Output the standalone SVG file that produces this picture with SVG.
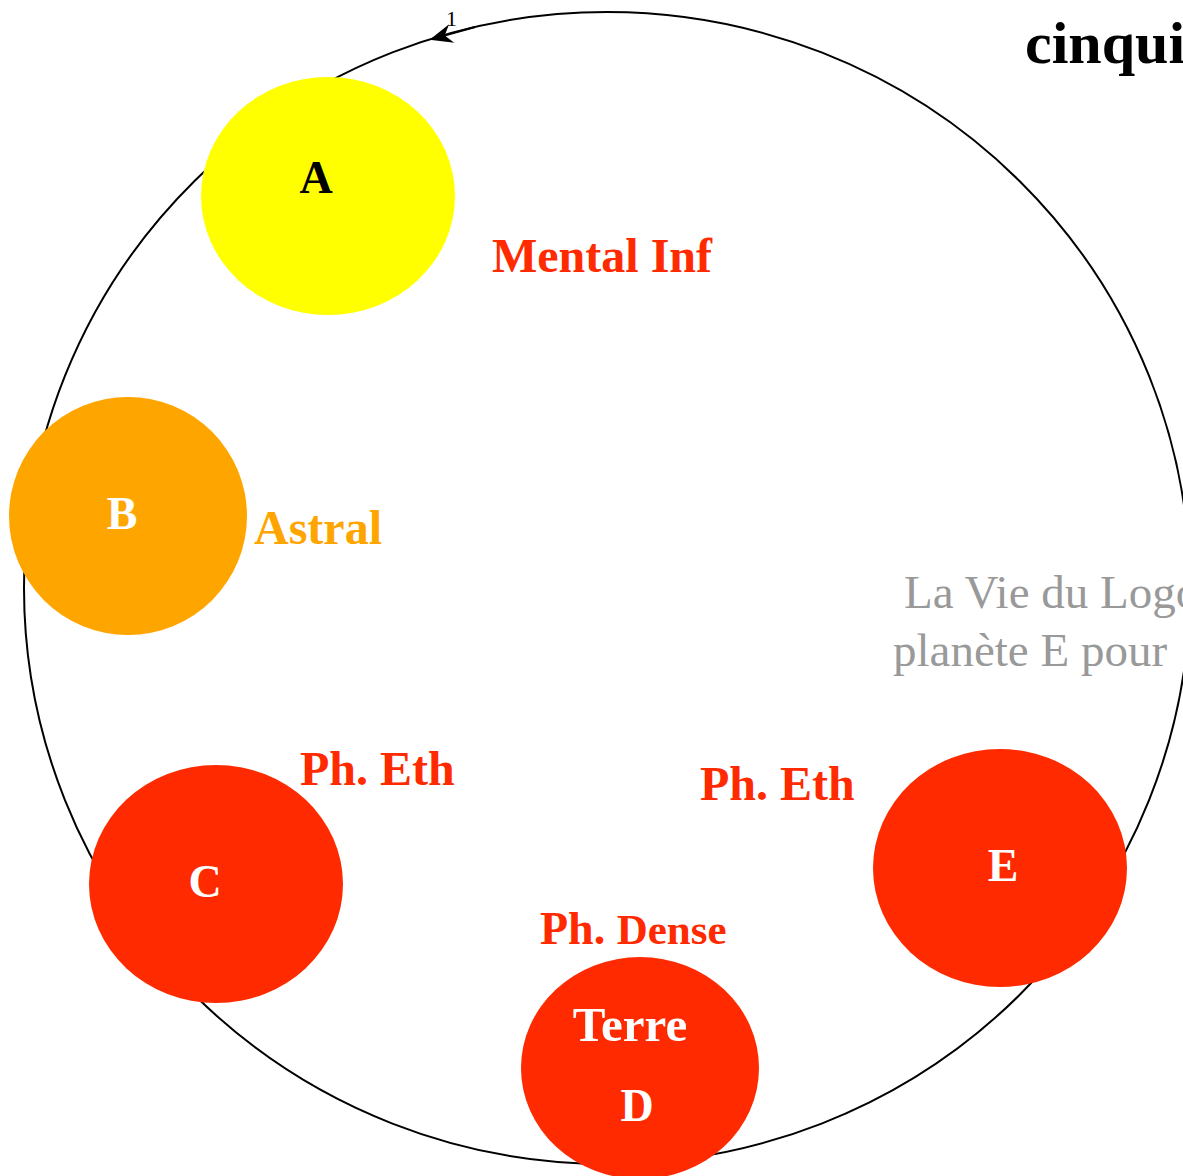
<svg xmlns="http://www.w3.org/2000/svg" width="1183" height="1176" viewBox="0 0 1183 1176">
<style>
.t{font-family:"Liberation Serif","Times New Roman",serif;font-weight:bold}
.red{fill:#ff2a00}
.lbl{fill:#ff2a00;font-size:48px}
.g{font-family:"Liberation Serif","Times New Roman",serif;font-size:47px;fill:#999}
</style>
<defs>
<marker id="ah" viewBox="0 0 20 20" refX="18" refY="10" markerWidth="24" markerHeight="24" markerUnits="userSpaceOnUse" orient="auto">
<path d="M20,10 L1,2 L7,10 L1,18 Z" fill="#000"/>
</marker>
</defs>
<rect width="1183" height="1176" fill="#fff"/>
<g id="connectors">
<ellipse cx="607" cy="588" rx="583" ry="576" fill="none" stroke="#000" stroke-width="2"/>
<path d="M475,27 L432,39" fill="none" stroke="#000" stroke-width="2" marker-end="url(#ah)"/>
<text x="446" y="26" font-family="Liberation Serif,serif" font-size="22">1</text>
</g>
<g id="title"><text class="t" x="1025" y="63" font-size="60" fill="#000">cinquième</text></g>
<g id="A">
<ellipse cx="328" cy="196" rx="127" ry="119" fill="#ffff00"/>
<text class="t" x="316" y="193" font-size="46" text-anchor="middle" fill="#000">A</text>
</g>
<g id="B">
<ellipse cx="128" cy="516" rx="119" ry="119" fill="#ffa500"/>
<text class="t" x="122" y="529" font-size="46" text-anchor="middle" fill="#fff">B</text>
</g>
<g id="C">
<ellipse cx="216" cy="884" rx="127" ry="119" fill="#ff2a00"/>
<text class="t" x="205" y="897" font-size="46" text-anchor="middle" fill="#fff">C</text>
</g>
<g id="D">
<ellipse cx="640" cy="1068" rx="119" ry="111" fill="#ff2a00"/>
<text class="t" x="630" y="1041" font-size="49" text-anchor="middle" fill="#fff">Terre</text>
<text class="t" x="637" y="1121" font-size="46" text-anchor="middle" fill="#fff">D</text>
</g>
<g id="E">
<ellipse cx="1000" cy="868" rx="127" ry="119" fill="#ff2a00"/>
<text class="t" x="1003" y="881" font-size="46" text-anchor="middle" fill="#fff">E</text>
</g>
<g id="labels">
<text class="t lbl" x="492" y="272" fill="#ee3300">Mental Inf</text>
<text class="t" x="254" y="544" font-size="48" fill="#ffa500">Astral</text>
<text class="t lbl" x="300" y="785">Ph. Eth</text>
<text class="t lbl" x="700" y="800">Ph. Eth</text>
<text class="t red" x="540" y="944" font-size="46">Ph. <tspan font-size="43">Dense</tspan></text>
<text class="g" x="904" y="608">La Vie du Logos</text>
<text class="g" x="893" y="666">planète E pour</text>
</g>
</svg>
